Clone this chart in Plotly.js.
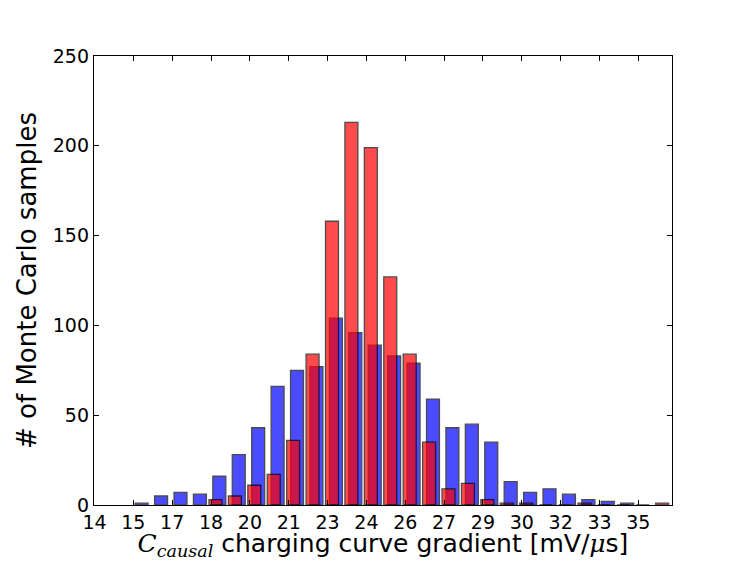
<!DOCTYPE html>
<html>
<head>
<meta charset="utf-8">
<script src="https://cdn.plot.ly/plotly-3.0.1.min.js"></script>
<style>
  html, body { margin: 0; padding: 0; background: #fff; }
  #chart { width: 747px; height: 561px; }
</style>
</head>
<body>
<div id="chart"></div>
<script>
// Bin centres and counts
const blueCenters = [15.82, 16.57, 17.32, 18.07, 18.82, 19.57, 20.32, 21.07, 21.82, 22.57,
                     23.32, 24.07, 24.82, 25.57, 26.32, 27.07, 27.82, 28.57, 29.32, 30.07,
                     30.82, 31.57, 32.32, 33.07, 33.82, 34.57];
const blueCounts  = [1, 5, 7, 6, 16, 28, 43, 66, 75, 77,
                     104, 96, 89, 83, 79, 59, 43, 45, 35, 13,
                     7, 9, 6, 3, 2, 1];

const redCenters  = [18.67, 19.42, 20.17, 20.92, 21.67, 22.42, 23.17, 23.92, 24.67, 25.42,
                     26.17, 26.92, 27.67, 28.42, 29.17, 29.92, 30.67, 31.42, 32.17, 32.92,
                     33.67, 34.42, 35.17, 35.92];
const redCounts   = [3, 5, 11, 17, 36, 84, 158, 213, 199, 127,
                     84, 35, 9, 12, 3, 1, 1, 0, 0, 1,
                     0, 0, 0, 1];

const xTickVals  = [14, 15.5, 17, 18.5, 20, 21.5, 23, 24.5, 26, 27.5, 29, 30.5, 32, 33.5, 35];
const xTickText  = ['14', '15', '17', '18', '20', '21', '23', '24', '26', '27', '29', '30', '32', '33', '35'];
const yTickVals  = [0, 50, 100, 150, 200, 250];

const traces = [
  {
    type: 'bar', x: blueCenters, y: blueCounts, width: 0.5,
    opacity: 0.7,
    marker: { color: 'rgb(0,0,255)', line: { color: '#000', width: 1.3 } },
    hoverinfo: 'x+y'
  },
  {
    type: 'bar', x: redCenters, y: redCounts, width: 0.5,
    opacity: 0.7,
    marker: { color: 'rgb(255,0,0)', line: { color: '#000', width: 1.3 } },
    hoverinfo: 'x+y'
  }
];

const layout = {
  width: 747, height: 561,
  margin: { l: 94, r: 75, t: 56, b: 56, pad: 0 },
  paper_bgcolor: '#fff', plot_bgcolor: '#fff',
  barmode: 'overlay',
  showlegend: false,
  font: { family: 'DejaVu Sans', size: 19, color: '#000' },
  xaxis: {
    range: [13.98, 36.3],
    tickvals: xTickVals, ticktext: xTickText,
    ticks: 'inside', ticklen: 5, tickwidth: 1, tickcolor: '#000',
    showline: true, linecolor: '#000', linewidth: 1.2, mirror: 'ticks',
    showgrid: false, zeroline: false,
    tickfont: { size: 19 },
    title: {
      text: "<span style=\"font-family:'DejaVu Serif';font-style:italic\">C<sub>causal</sub></span> charging curve gradient [mV/<span style=\"font-family:'DejaVu Serif';font-style:italic\">μ</span>s]",
      font: { size: 25 }, standoff: 6
    }
  },
  yaxis: {
    range: [0, 250],
    tickvals: yTickVals,
    ticks: 'inside', ticklen: 5, tickwidth: 1, tickcolor: '#000',
    showline: true, linecolor: '#000', linewidth: 1.2, mirror: 'ticks',
    showgrid: false, zeroline: false,
    tickfont: { size: 19 },
    title: { text: '# of Monte Carlo samples', font: { size: 26 }, standoff: 8 }
  }
};

Plotly.newPlot('chart', traces, layout, { displayModeBar: false, staticPlot: true });
</script>
</body>
</html>
